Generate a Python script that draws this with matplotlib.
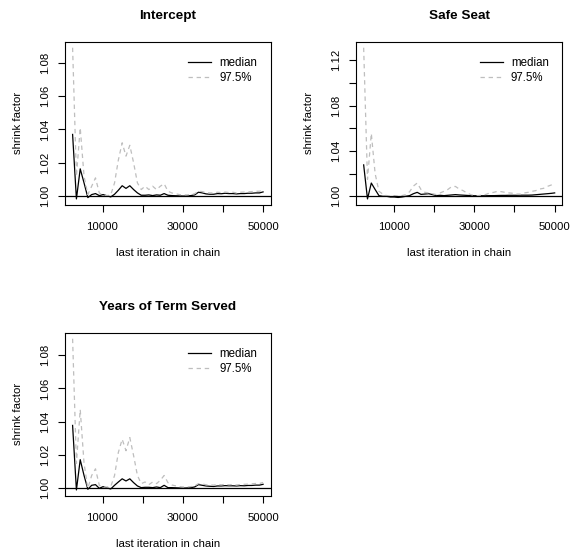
import numpy as np
import matplotlib
matplotlib.use('Agg')
import matplotlib.pyplot as plt

plt.rcParams['font.family'] = ['Liberation Sans', 'DejaVu Sans']

# last iteration of each bin (51 bins ending at 50000)
last_iter = np.append(np.arange(2550, 49101, 950), 50000)

# shrink factors for each parameter
intercept_median = [1.037, 0.9984, 1.0164, 1.008, 0.9992, 1.001, 1.0016, 1.0004, 1.001, 1.0003,
                    0.9996, 1.0012, 1.0036, 1.0063, 1.0047, 1.0063, 1.004, 1.002, 1.0006, 1.0006,
                    1.0008, 1.0004, 1.0008, 1.0006, 1.0016, 1.0006, 1.0004, 1.0003, 1.0002, 1.0001,
                    1.0002, 1.0004, 1.0008, 1.0024, 1.002, 1.0014, 1.0012, 1.0012, 1.0016, 1.0015,
                    1.0018, 1.0016, 1.0016, 1.0014, 1.0016, 1.0016, 1.0018, 1.0018, 1.002, 1.002,
                    1.0026]
intercept_upper = [1.0889, 1.012, 1.041, 1.012, 1.001, 1.006, 1.011, 1.002, 1.0005, 1.0004,
                   1.0008, 1.008, 1.0217, 1.032, 1.024, 1.0305, 1.020, 1.008, 1.004, 1.006,
                   1.004, 1.006, 1.004, 1.006, 1.0075, 1.003, 1.002, 1.0015, 1.001, 1.0008,
                   1.0008, 1.001, 1.0015, 1.003, 1.0028, 1.0022, 1.002, 1.002, 1.0024, 1.0022,
                   1.0025, 1.0022, 1.0024, 1.002, 1.0024, 1.0025, 1.0026, 1.0028, 1.003, 1.003,
                   1.0036]

safe_median = [1.0277, 0.9977, 1.0117, 1.006, 1.0006, 1.0, 1.0, 0.9994, 0.9994, 0.999,
               0.9994, 1.0, 1.0006, 1.0023, 1.0035, 1.0017, 1.002, 1.0023, 1.0015, 1.0006,
               1.0009, 1.0006, 1.0009, 1.0012, 1.0015, 1.0012, 1.001, 1.0008, 1.0006, 1.0005,
               1.0005, 1.0005, 1.0005, 1.0006, 1.0006, 1.0007, 1.0008, 1.0008, 1.0009, 1.0009,
               1.0009, 1.001, 1.001, 1.001, 1.0011, 1.0014, 1.0017, 1.002, 1.0023, 1.0026,
               1.003]
safe_upper = [1.131, 1.015, 1.0554, 1.020, 1.0044, 1.002, 1.0006, 1.0, 1.0006, 1.0,
              1.0006, 1.0015, 1.004, 1.009, 1.0117, 1.006, 1.0035, 1.003, 1.0023, 1.0015,
              1.003, 1.0044, 1.006, 1.0085, 1.0087, 1.0064, 1.005, 1.003, 1.0015, 1.0006,
              1.0006, 1.0012, 1.0017, 1.003, 1.0035, 1.0044, 1.0041, 1.0035, 1.003, 1.0027,
              1.002, 1.002, 1.003, 1.0035, 1.0044, 1.005, 1.0064, 1.007, 1.0087, 1.0099,
              1.0117]

term_median = [1.0378, 0.999, 1.0172, 1.0077, 0.9994, 1.0018, 1.0022, 1.0, 1.001, 1.0002,
               0.9996, 1.0018, 1.0038, 1.0057, 1.0044, 1.0057, 1.0034, 1.0014, 1.0004, 1.0006,
               1.0006, 1.0004, 1.0008, 1.0004, 1.0018, 1.0004, 1.0004, 1.0003, 1.0002, 1.0001,
               1.0002, 1.0004, 1.0008, 1.0022, 1.0018, 1.0014, 1.0012, 1.0011, 1.0014, 1.0014,
               1.0016, 1.0015, 1.0015, 1.0014, 1.0016, 1.0015, 1.0017, 1.0017, 1.0019, 1.0019,
               1.0024]
term_upper = [1.0899, 1.015, 1.0473, 1.015, 1.0, 1.0077, 1.0117, 1.0018, 1.0006, 1.0008,
              1.001, 1.0077, 1.0216, 1.0295, 1.0226, 1.0305, 1.0196, 1.0077, 1.0028, 1.0038,
              1.0022, 1.0038, 1.0028, 1.0048, 1.0077, 1.0034, 1.002, 1.0015, 1.001, 1.0008,
              1.0008, 1.001, 1.0014, 1.0028, 1.0026, 1.0021, 1.002, 1.0019, 1.0023, 1.0021,
              1.0024, 1.0021, 1.0023, 1.002, 1.0023, 1.0024, 1.0025, 1.0027, 1.0029, 1.0029,
              1.0035]

titles = ['Intercept', 'Safe Seat', 'Years of Term Served']
x_ticks = [10000, 20000, 30000, 40000, 50000]
x_labels = ['10000', '', '30000', '', '50000']
y_ticks = [[1.00, 1.02, 1.04, 1.06, 1.08],
           [1.00, 1.02, 1.04, 1.06, 1.08, 1.10, 1.12],
           [1.00, 1.02, 1.04, 1.06, 1.08]]
y_labels = [['1.00', '1.02', '1.04', '1.06', '1.08'],
            ['1.00', '', '1.04', '', '1.08', '', '1.12'],
            ['1.00', '1.02', '1.04', '1.06', '1.08']]

medians = [intercept_median, safe_median, term_median]
uppers = [intercept_upper, safe_upper, term_upper]

# panel boxes in figure fractions
positions = [[0.1140, 0.6320, 0.3609, 0.2932],
             [0.6246, 0.6320, 0.3619, 0.2932],
             [0.1140, 0.1095, 0.3609, 0.2932]]

fig = plt.figure(figsize=(5.7, 5.57), dpi=100)

for i in range(3):
    ax = fig.add_axes(positions[i])
    med = np.array(medians[i])
    upp = np.array(uppers[i])

    ax.plot(last_iter, med, color='black', linewidth=0.9, label='median')
    ax.plot(last_iter, upp, color='#bebebe', linewidth=0.9, dashes=(3.5, 3), label='97.5%')
    ax.axhline(1.0, color='black', linewidth=0.9)

    # 4% padding on each side
    xr = last_iter.max() - last_iter.min()
    ax.set_xlim(last_iter.min() - 0.04 * xr, last_iter.max() + 0.04 * xr)
    lo = min(med.min(), upp.min())
    hi = max(med.max(), upp.max())
    ax.set_ylim(lo - 0.04 * (hi - lo), hi + 0.04 * (hi - lo))

    ax.set_xticks(x_ticks)
    ax.set_xticklabels(x_labels)
    ax.set_yticks(y_ticks[i])
    ax.set_yticklabels(y_labels[i], rotation=90, va='center')
    ax.tick_params(axis='both', direction='out', length=5, width=0.8, labelsize=8.2)
    ax.tick_params(axis='x', pad=7)
    ax.tick_params(axis='y', pad=6)
    plt.setp(ax.spines.values(), linewidth=0.8)

    ax.set_xlabel('last iteration in chain', fontsize=8.2, labelpad=12)
    ax.set_ylabel('shrink factor', fontsize=8.2, labelpad=12)
    ax.set_title(titles[i], fontsize=9.7, fontweight='bold', pad=16)

    ax.legend(loc='upper left', bbox_to_anchor=(0.60, 0.905), frameon=False, fontsize=8.3,
              handlelength=2.0, handletextpad=0.7, labelspacing=0.25,
              borderpad=0, borderaxespad=0)

plt.savefig('out.png', dpi=100)
